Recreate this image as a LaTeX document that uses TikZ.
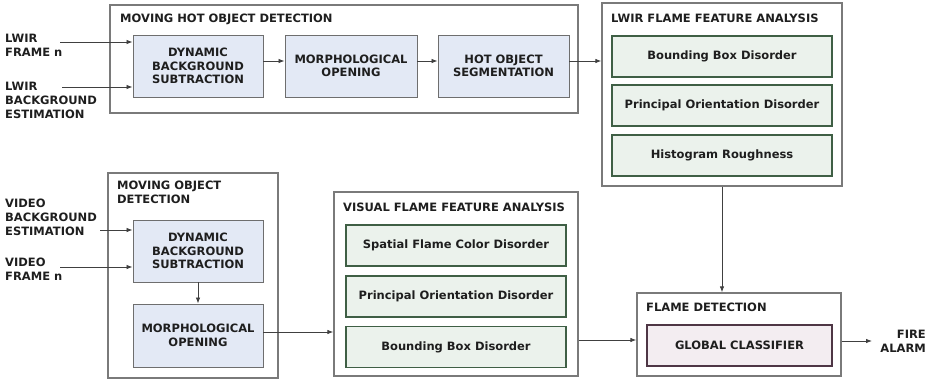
\documentclass[tikz,border=0pt]{standalone}
\usepackage{fontspec}
\setmainfont{DejaVu Sans}
\usetikzlibrary{arrows.meta}
\definecolor{blockfill}{HTML}{E3E9F5}
\definecolor{featfill}{HTML}{EBF2EC}
\definecolor{featline}{HTML}{3F5F45}
\definecolor{clsfill}{HTML}{F3EDF1}
\definecolor{clsline}{HTML}{4E3645}
\definecolor{frameline}{HTML}{7A7A7A}
\definecolor{ink}{HTML}{1E1E1E}
\tikzset{
  stage/.style={draw=frameline, line width=1.3pt, fill=white, inner sep=0pt},
  block/.style={draw=frameline!90!black, line width=0.9pt, fill=blockfill, inner sep=0pt,
    align=center, font=\fontsize{11.5}{13.5}\selectfont\bfseries, text=ink},
  feat/.style={draw=featline, line width=1.1pt, fill=featfill, inner sep=0pt,
    minimum width=220pt, minimum height=41pt, font=\fontsize{11.5}{13.5}\selectfont\bfseries, text=ink},
  cls/.style={draw=clsline, line width=1.1pt, fill=clsfill, inner sep=0pt,
    minimum width=185pt, minimum height=41pt, font=\fontsize{11.5}{13.5}\selectfont\bfseries, text=ink},
  stagetitle/.style={anchor=west, inner sep=0pt, font=\fontsize{11.5}{14}\selectfont\bfseries, text=ink},
  extlabel/.style={inner sep=0pt, font=\fontsize{11.5}{14}\selectfont\bfseries, text=ink},
  flow/.style={draw=ink!85, line width=0.8pt, -{Latex[length=6pt,width=4.5pt]}},
}
\begin{document}
\begin{tikzpicture}[x=1pt, y=-1pt]
\useasboundingbox (0,0) rectangle (935,380);

% ---- stage frames ----
\node[stage, minimum width=468pt, minimum height=108pt] (mhod) at (344,59) {};
\node[stage, minimum width=240pt, minimum height=183pt] (lwir) at (722,94.5) {};
\node[stage, minimum width=170pt, minimum height=205pt] (mod) at (193,275.5) {};
\node[stage, minimum width=244pt, minimum height=184pt] (vffa) at (456,284) {};
\node[stage, minimum width=204pt, minimum height=83pt] (fd) at (739,334.5) {};

% ---- stage titles ----
\node[stagetitle] (t1) at (120,19) {MOVING HOT OBJECT DETECTION};
\node[stagetitle] (t2) at (611,18) {LWIR FLAME FEATURE ANALYSIS};
\node[stagetitle, anchor=north west, align=left] (t3) at (117,181) {MOVING OBJECT\\DETECTION};
\node[stagetitle] (t4) at (343,207) {VISUAL FLAME FEATURE ANALYSIS};
\node[stagetitle] (t5) at (646,307) {FLAME DETECTION};

% ---- LWIR branch ----
\node[block, minimum width=130pt, minimum height=62pt] (dbs1) at (198,66) {DYNAMIC\\BACKGROUND\\SUBTRACTION};
\node[block, minimum width=132pt, minimum height=62pt] (morph1) at (351,66) {MORPHOLOGICAL\\OPENING};
\node[block, minimum width=131pt, minimum height=62pt] (hos) at (503.5,66) {HOT OBJECT\\SEGMENTATION};

\node[feat] (bbd1) at (722,56.5) {Bounding Box Disorder};
\node[feat] (pod1) at (722,105.5) {Principal Orientation Disorder};
\node[feat] (hr) at (722,155.5) {Histogram Roughness};

% ---- visible-band branch ----
\node[block, minimum width=130pt, minimum height=62pt] (dbs2) at (198,251) {DYNAMIC\\BACKGROUND\\SUBTRACTION};
\node[block, minimum width=130pt, minimum height=63pt] (morph2) at (198,335.5) {MORPHOLOGICAL\\OPENING};

\node[feat] (sfcd) at (456,245.5) {Spatial Flame Color Disorder};
\node[feat] (pod2) at (456,296.5) {Principal Orientation Disorder};
\node[feat] (bbd2) at (456,347) {Bounding Box Disorder};

\node[cls] (gc) at (739.5,345.5) {GLOBAL CLASSIFIER};

% ---- external inputs / output ----
\node[extlabel, anchor=west, align=left] (lf) at (5,45) {LWIR\\FRAME n};
\node[extlabel, anchor=west, align=left] (lb) at (5,100) {LWIR\\BACKGROUND\\ESTIMATION};
\node[extlabel, anchor=west, align=left] (vb) at (5,217) {VIDEO\\BACKGROUND\\ESTIMATION};
\node[extlabel, anchor=west, align=left] (vf) at (5,269.5) {VIDEO\\FRAME n};
\node[extlabel, anchor=east, align=right] (fa) at (926,341.5) {FIRE\\ALARM};

\coordinate (in1) at (60,42);
\coordinate (in2) at (62,87);
\coordinate (in3) at (100,230);
\coordinate (in4) at (60,267);
\coordinate (out) at (872,341);

% ---- connectors ----
\draw[flow] (in1) -- (in1 -| dbs1.west);
\draw[flow] (in2) -- (in2 -| dbs1.west);
\draw[flow] (dbs1.east |- 0,61) -- (morph1.west |- 0,61);
\draw[flow] (morph1.east |- 0,61) -- (hos.west |- 0,61);
\draw[flow] (hos.east |- 0,61) -- (lwir.west |- 0,61);

\draw[flow] (in3) -- (in3 -| dbs2.west);
\draw[flow] (in4) -- (in4 -| dbs2.west);
\draw[flow] (dbs2) -- (morph2);
\draw[flow] (morph2.east |- 0,332) -- (vffa.west |- 0,332);
\draw[flow] (vffa.east |- 0,340) -- (fd.west |- 0,340);

\draw[flow] (lwir.south) -- (fd.north -| lwir.south);
\draw[flow] (fd.east |- out) -- (out);
\end{tikzpicture}
\end{document}
